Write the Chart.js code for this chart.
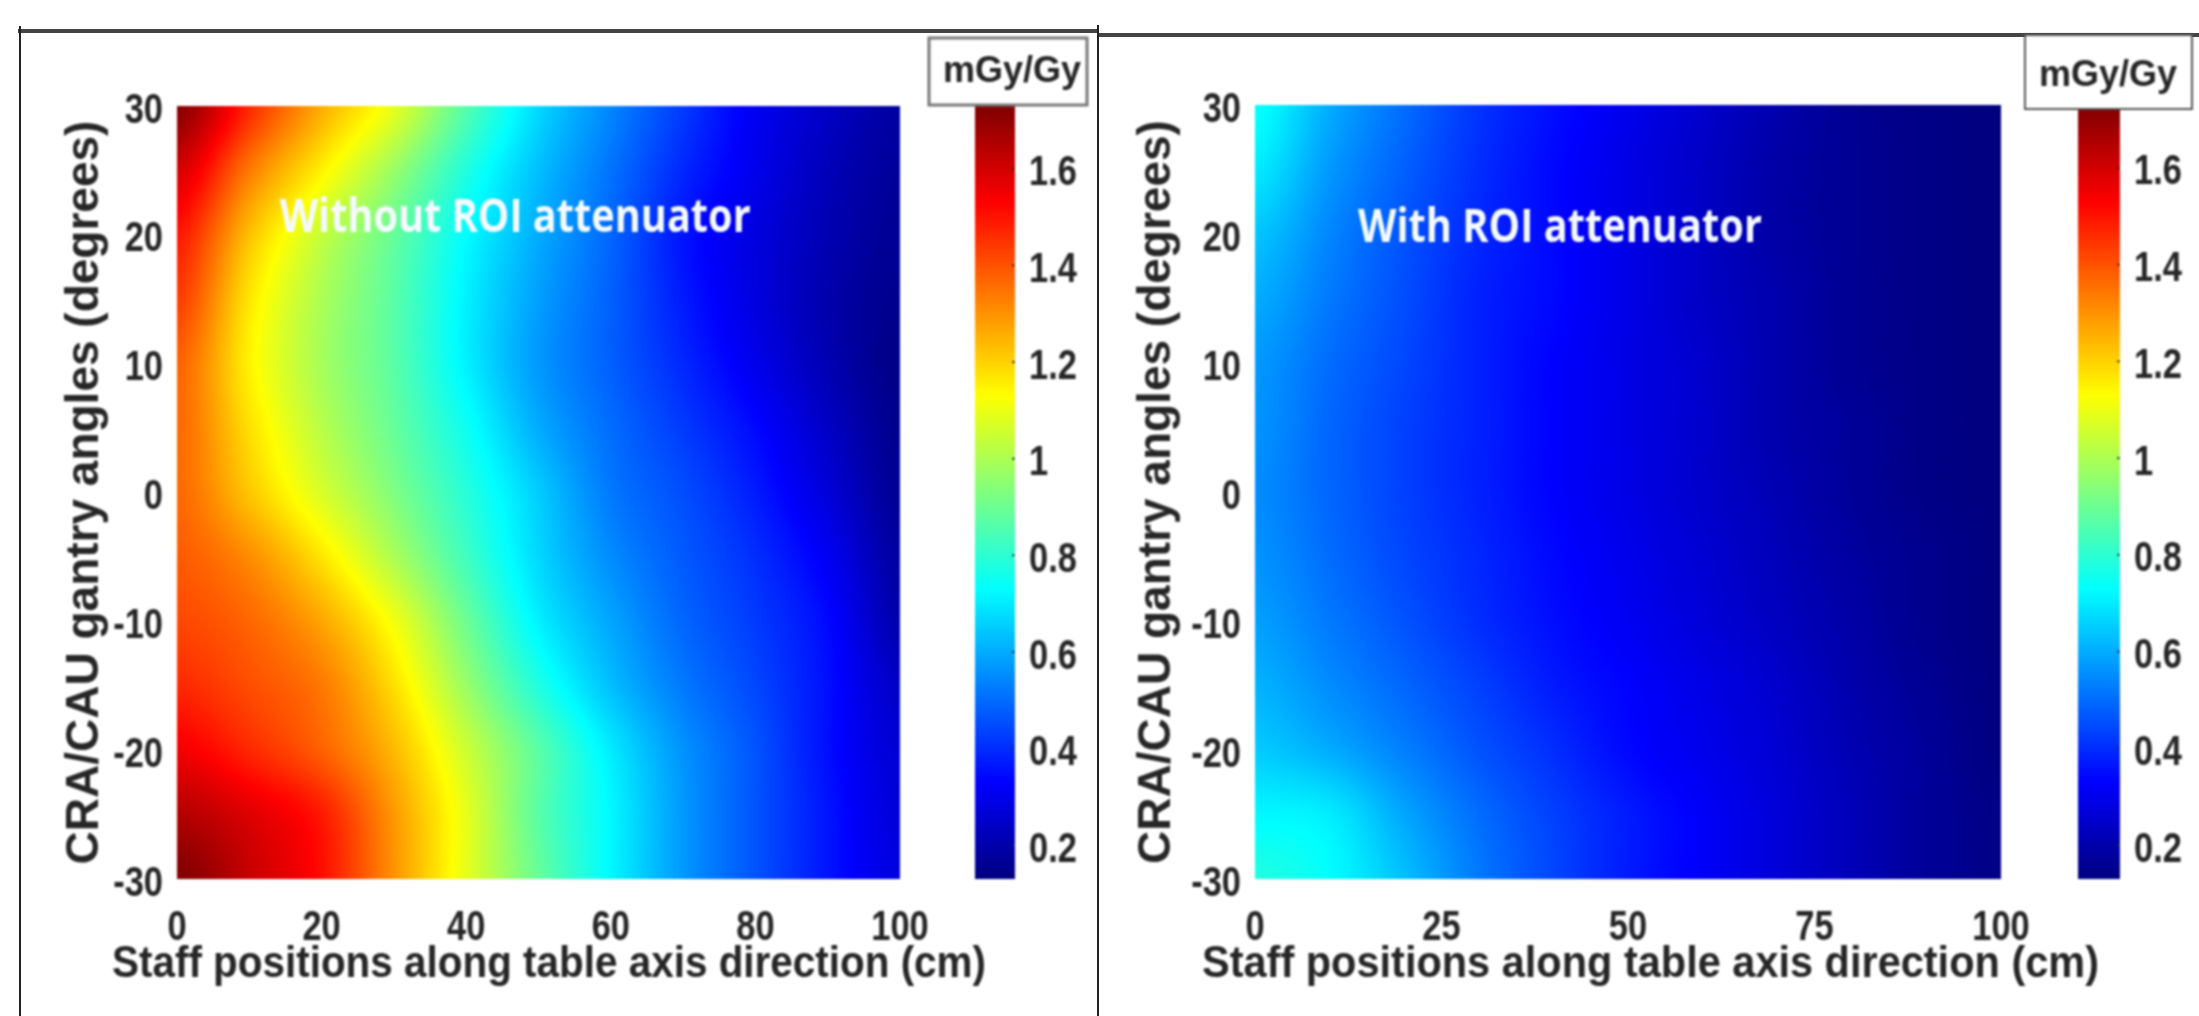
<!DOCTYPE html>
<html>
<head>
<meta charset="utf-8">
<style>
html,body{margin:0;padding:0;background:#fff;width:2199px;height:1016px;overflow:hidden}
canvas{position:absolute;filter:blur(0.8px)}
.rule{position:absolute;background:#333;filter:blur(0.6px)}
</style>
<script src="https://cdn.jsdelivr.net/npm/chart.js@4"></script>
</head>
<body>
<div class="rule" style="left:18px;top:29px;width:1080px;height:4px;background:#444"></div>
<div class="rule" style="left:1098px;top:33px;width:1101px;height:4px;background:#444"></div>
<div class="rule" style="left:19px;top:26px;width:2px;height:990px;background:#222"></div>
<div class="rule" style="left:1097px;top:25px;width:2px;height:991px;background:#222"></div>
<canvas id="heatL" width="1097" height="1016" style="left:0;top:0"></canvas>
<canvas id="barL" width="178" height="1016" style="left:920px;top:0"></canvas>
<canvas id="heatR" width="1099" height="1016" style="left:1100px;top:0"></canvas>
<canvas id="barR" width="189" height="1016" style="left:2010px;top:0"></canvas>
<script>
const positions = [0,10,20,30,40,50,60,70,80,90,100];
const angles = [30,25,20,15,10,5,0,-5,-10,-15,-20,-25,-30];
const withoutROI = [
 [1.72,1.47,1.26,1.09,.86,.67,.54,.42,.31,.24,.18],
 [1.60,1.34,1.15,.97,.78,.63,.51,.39,.30,.22,.17],
 [1.50,1.23,1.04,.89,.73,.60,.49,.36,.28,.21,.16],
 [1.44,1.17,1.00,.87,.71,.58,.48,.37,.28,.20,.15],
 [1.38,1.15,.99,.87,.71,.57,.48,.39,.30,.21,.14],
 [1.37,1.18,1.02,.89,.75,.60,.50,.42,.34,.24,.15],
 [1.37,1.22,1.07,.93,.79,.65,.52,.45,.37,.27,.16],
 [1.39,1.31,1.17,1.00,.83,.67,.55,.47,.40,.31,.18],
 [1.42,1.37,1.27,1.11,.90,.71,.59,.49,.42,.34,.20],
 [1.47,1.41,1.34,1.18,.97,.78,.63,.52,.44,.35,.24],
 [1.55,1.47,1.38,1.24,1.05,.87,.70,.56,.46,.35,.26],
 [1.65,1.58,1.49,1.29,1.09,.87,.72,.57,.46,.36,.27],
 [1.73,1.62,1.51,1.30,1.09,.89,.72,.57,.46,.36,.28]
];
const withROI = [
 [.74,.60,.50,.41,.35,.30,.25,.20,.16,.14,.13],
 [.70,.57,.48,.40,.34,.29,.24,.19,.16,.14,.13],
 [.64,.54,.46,.39,.34,.29,.24,.19,.16,.14,.13],
 [.60,.52,.45,.38,.34,.29,.24,.20,.16,.14,.13],
 [.57,.50,.44,.38,.33,.29,.25,.20,.16,.14,.13],
 [.56,.49,.43,.38,.33,.29,.25,.20,.17,.14,.13],
 [.55,.49,.43,.38,.33,.29,.25,.21,.17,.14,.13],
 [.56,.50,.44,.39,.34,.30,.26,.22,.18,.15,.13],
 [.58,.52,.46,.40,.35,.31,.27,.23,.19,.15,.13],
 [.61,.55,.49,.43,.37,.33,.29,.25,.20,.16,.13],
 [.65,.60,.53,.46,.40,.34,.30,.26,.21,.17,.13],
 [.72,.70,.59,.50,.43,.37,.32,.27,.22,.17,.14],
 [.78,.73,.63,.52,.44,.37,.32,.27,.22,.17,.14]
];
const xTicksL = [0,20,40,60,80,100];
const xTicksR = [0,25,50,75,100];
const yTicks = [-30,-20,-10,0,10,20,30];
const cbTicks = [0.2,0.4,0.6,0.8,1,1.2,1.4,1.6];
const cbMin = 0.13, cbMax = 1.73;
const xTitle = 'Staff positions along table axis direction (cm)';
const yTitle = 'CRA/CAU gantry angles (degrees)';
const unitLabel = 'mGy/Gy';
const noteL = 'Without ROI attenuator';
const noteR = 'With ROI attenuator';

const FAMILY = '"Liberation Sans",Arial,sans-serif';
const INK = '#262626';
const SQUEEZE = 0.82;
Chart.defaults.animation = false;

// The reference's tick text is horizontally condensed: hand each label a maxWidth.
function condenseTicks(s){
  if(s.__condensed) return;
  s.__condensed = true;
  const orig = s.getLabelItems;
  s.getLabelItems = function(ca){
    const items = orig.call(this,ca);
    items.forEach(it=>{
      this.ctx.save();
      this.ctx.font = it.font.string;
      it.options.maxWidth = this.ctx.measureText(String(it.label)).width*SQUEEZE;
      this.ctx.restore();
    });
    return items;
  };
}

function jet(v){
  const t = Math.min(1,Math.max(0,(v-cbMin)/(cbMax-cbMin)));
  const ch = c => 255*Math.min(1,Math.max(0,1.5-Math.abs(4*t-c)));
  return [ch(3),ch(2),ch(1)];
}
function rgbCss(v){const c=jet(v);return `rgb(${c[0]|0},${c[1]|0},${c[2]|0})`;}

function cr(a,b,c,d,t){
  return b+0.5*t*(c-a+t*(2*a-5*b+4*c-d+t*(3*(b-c)+d-a)));
}
function sampleGrid(grid,xv,yv){
  const nx=positions.length,ny=angles.length;
  const fx=Math.min(nx-1.0001,Math.max(0,xv/10));
  const fy=Math.min(ny-1.0001,Math.max(0,(30-yv)/5));
  const i=Math.floor(fx),j=Math.floor(fy),a=fx-i,b=fy-j;
  const rowAt=r=>{
    const g=grid[Math.min(ny-1,Math.max(0,r))];
    return cr(g[Math.max(0,i-1)],g[i],g[i+1],g[Math.min(nx-1,i+2)],a);
  };
  return cr(rowAt(j-1),rowAt(j),rowAt(j+1),rowAt(j+2),b);
}

const heatPlugin = {
  id:'heat',
  beforeDatasetsDraw(chart,args,opts){
    const {ctx,chartArea:ca,scales:{x,y}}=chart;
    const w=Math.round(ca.right-ca.left),h=Math.round(ca.bottom-ca.top);
    const off=document.createElement('canvas');off.width=w;off.height=h;
    const oc=off.getContext('2d');const im=oc.createImageData(w,h);
    for(let py=0;py<h;py++){
      const yv=y.getValueForPixel(ca.top+py+.5);
      for(let px=0;px<w;px++){
        const xv=x.getValueForPixel(ca.left+px+.5);
        const c=jet(sampleGrid(opts.grid,xv,yv));
        const k=(py*w+px)*4;
        im.data[k]=c[0];im.data[k+1]=c[1];im.data[k+2]=c[2];im.data[k+3]=255;
      }
    }
    oc.putImageData(im,0,0);
    ctx.drawImage(off,ca.left,ca.top);
  },
  afterDatasetsDraw(chart,args,opts){
    const {ctx,scales:{x,y}}=chart;
    ctx.save();
    ctx.font='bold 47px "Open Sans",sans-serif';
    ctx.fillStyle='#f4faff';
    ctx.textBaseline='alphabetic';
    const m=ctx.measureText(opts.note).width;
    ctx.translate(x.getPixelForValue(opts.noteX),y.getPixelForValue(opts.noteY));
    ctx.scale(opts.noteWidth/m,1);
    ctx.fillText(opts.note,0,0);
    ctx.restore();
  }
};

function heatChart(id,grid,xTicks,o){
  const points=[];
  angles.forEach((a,j)=>positions.forEach((p,i)=>points.push({x:p,y:a,v:grid[j][i]})));
  const tickFont={family:FAMILY,weight:'bold',size:42};
  return new Chart(document.getElementById(id),{
    type:'scatter',
    data:{datasets:[{data:points,pointRadius:0,showLine:false}]},
    plugins:[heatPlugin],
    options:{
      responsive:false,
      layout:{padding:{left:0,top:o.top,right:o.right,bottom:0}},
      plugins:{legend:{display:false},tooltip:{enabled:false},
        heat:{grid,note:o.note,noteX:o.noteX,noteY:o.noteY,noteWidth:o.noteWidth}},
      scales:{
        x:{type:'linear',min:0,max:100,grid:{display:false,drawTicks:false},border:{display:false},
          afterBuildTicks:s=>{s.ticks=xTicks.map(v=>({value:v}));},
          afterFit:s=>{s.height=1016-o.bottom;},
          afterUpdate:s=>{
            condenseTicks(s);
            if(s.__t) return; s.__t=true;
            const orig=s.drawTitle;
            s.drawTitle=function(){
              const l=this.left,r=this.right;
              this.left=o.titleLeft;this.right=o.titleRight;
              orig.call(this);
              this.left=l;this.right=r;
            };
          },
          ticks:{color:INK,font:tickFont,padding:24,maxRotation:0,autoSkip:false,callback:v=>String(v)},
          title:{display:true,text:xTitle,color:INK,font:{family:FAMILY,weight:'bold',size:45},padding:{top:0,bottom:24}}
        },
        y:{type:'linear',min:-30,max:30,grid:{display:false,drawTicks:false},border:{display:false},
          afterBuildTicks:s=>{s.ticks=yTicks.map(v=>({value:v}));},
          afterFit:s=>{s.width=o.left;},
          afterUpdate:condenseTicks,
          ticks:{color:INK,font:tickFont,padding:14,labelOffset:5,autoSkip:false,callback:v=>String(v)},
          title:{display:true,text:yTitle,color:INK,font:{family:FAMILY,weight:'bold',size:46},padding:{top:o.yTitlePad,bottom:0}}
        }
      }
    }
  });
}

const barPlugin = {
  id:'cbar',
  afterDraw(chart,args,opts){
    const {ctx,chartArea:ca,scales:{y}}=chart;
    ctx.save();
    ctx.strokeStyle='rgba(40,40,40,.8)';ctx.lineWidth=2;
    y.ticks.forEach(t=>{
      const p=y.getPixelForValue(t.value);
      ctx.beginPath();ctx.moveTo(ca.right-3,p);ctx.lineTo(ca.right,p);ctx.stroke();
    });
    const b=opts.box;
    ctx.fillStyle='#fff';ctx.fillRect(b[0],b[1],b[2],b[3]);
    ctx.strokeStyle=opts.boxColor;ctx.lineWidth=opts.boxLine;ctx.strokeRect(b[0],b[1],b[2],b[3]);
    ctx.fillStyle=INK;ctx.font='bold 36px '+FAMILY;ctx.textAlign='center';ctx.textBaseline='middle';
    ctx.fillText(unitLabel,opts.textX,opts.textY);
    ctx.restore();
  }
};

function barChart(id,o){
  return new Chart(document.getElementById(id),{
    type:'bar',
    data:{labels:[unitLabel],datasets:[{
      data:[[cbMin,cbMax]],
      barPercentage:1,categoryPercentage:1,borderSkipped:false,
      backgroundColor(c){
        const {chartArea:ca,ctx,scales}=c.chart;
        if(!ca)return '#000';
        const y=scales.y;
        const g=ctx.createLinearGradient(0,y.getPixelForValue(cbMin),0,y.getPixelForValue(cbMax));
        for(let i=0;i<=32;i++){g.addColorStop(i/32,rgbCss(cbMin+(cbMax-cbMin)*i/32));}
        return g;
      }
    }]},
    plugins:[barPlugin],
    options:{
      responsive:false,
      layout:{padding:{left:o.left,top:o.top,right:0,bottom:1016-o.bottom}},
      plugins:{legend:{display:false},tooltip:{enabled:false},
        cbar:{box:o.box,boxColor:o.boxColor,boxLine:o.boxLine,textX:o.textX,textY:o.textY}},
      scales:{
        x:{display:false},
        y:{position:'right',min:cbMin,max:cbMax,grid:{display:false,drawTicks:false},border:{display:false},
          afterBuildTicks:s=>{s.ticks=cbTicks.map(v=>({value:v}));},
          afterFit:s=>{s.width=o.axisWidth;},
          afterUpdate:condenseTicks,
          ticks:{color:INK,font:{family:FAMILY,weight:'bold',size:42},padding:14,labelOffset:5,autoSkip:false,
            callback:v=>String(+(+v).toFixed(1))}
        }
      }
    }
  });
}

heatChart('heatL',withoutROI,xTicksL,{left:177,top:106,right:197,bottom:879,titleLeft:112,titleRight:986,yTitlePad:58,
  note:noteL,noteX:14.2,noteY:20.2,noteWidth:471});
heatChart('heatR',withROI,xTicksR,{left:155,top:105,right:198,bottom:879,titleLeft:102,titleRight:999,yTitlePad:30,
  note:noteR,noteX:13.8,noteY:19.4,noteWidth:404});
barChart('barL',{left:55,top:106,bottom:879,axisWidth:83,box:[9,38,158,67],boxColor:'#777',boxLine:3,textX:92,textY:72});
barChart('barR',{left:68,top:105,bottom:879,axisWidth:79,box:[15,35,167,74],boxColor:'#555',boxLine:2,textX:98,textY:76});
</script>
</body>
</html>
